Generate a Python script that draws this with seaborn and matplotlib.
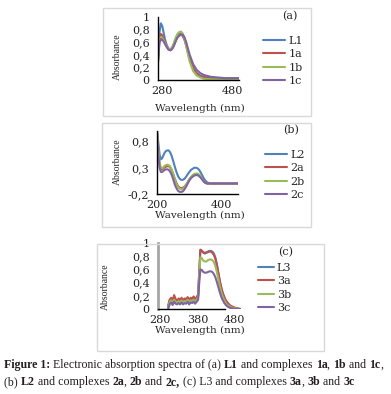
import numpy as np
import pandas as pd
import matplotlib
matplotlib.use("Agg")
import matplotlib.pyplot as plt
from matplotlib.patches import Rectangle
import seaborn as sns

# ---- data ----
wl_a = [270, 274, 278, 282, 286, 290, 295, 300, 305, 310, 315, 320, 325, 330, 335,
        340, 345, 350, 355, 360, 370, 380, 390, 400, 420, 440, 460, 480, 500]
abs_L1 = [0.30, 0.75, 0.90, 0.86, 0.75, 0.64, 0.55, 0.50, 0.48, 0.50, 0.56, 0.63, 0.69, 0.73, 0.74,
          0.72, 0.66, 0.57, 0.46, 0.34, 0.19, 0.11, 0.07, 0.05, 0.03, 0.02, 0.02, 0.02, 0.02]
abs_1a = [0.30, 0.66, 0.73, 0.71, 0.66, 0.60, 0.53, 0.49, 0.48, 0.50, 0.56, 0.63, 0.68, 0.71, 0.72,
          0.70, 0.64, 0.55, 0.44, 0.33, 0.18, 0.10, 0.06, 0.04, 0.02, 0.02, 0.01, 0.01, 0.01]
abs_1b = [0.30, 0.62, 0.68, 0.67, 0.63, 0.58, 0.53, 0.49, 0.49, 0.52, 0.59, 0.67, 0.73, 0.76, 0.77,
          0.74, 0.66, 0.54, 0.41, 0.29, 0.14, 0.07, 0.04, 0.02, 0.01, 0.01, 0.01, 0.01, 0.01]
abs_1c = [0.28, 0.58, 0.65, 0.64, 0.61, 0.57, 0.52, 0.48, 0.47, 0.49, 0.54, 0.61, 0.67, 0.70, 0.72,
          0.72, 0.68, 0.60, 0.50, 0.40, 0.25, 0.16, 0.11, 0.08, 0.05, 0.04, 0.03, 0.03, 0.03]
names_a = ["L1", "1a", "1b", "1c"]

wl_b = [200, 204, 208, 212, 216, 220, 224, 228, 232, 236, 240, 245, 250, 255, 260, 265, 270, 275, 280, 285,
        290, 295, 300, 305, 310, 315, 320, 325, 330, 335, 340, 345, 350, 355, 360, 370, 380, 400, 420, 450]
abs_L2 = [1.02, 0.78, 0.55, 0.46, 0.48, 0.54, 0.59, 0.62, 0.63, 0.63, 0.60, 0.53, 0.43, 0.32, 0.22, 0.14, 0.09, 0.07, 0.07, 0.09,
          0.13, 0.18, 0.22, 0.26, 0.28, 0.30, 0.30, 0.29, 0.26, 0.21, 0.15, 0.09, 0.05, 0.02, 0.01, 0.0, 0.0, 0.0, 0.0, 0.0]
abs_2a = [1.00, 0.62, 0.36, 0.27, 0.27, 0.29, 0.31, 0.32, 0.33, 0.33, 0.31, 0.26, 0.18, 0.09, 0.01, -0.05, -0.08, -0.09, -0.08, -0.06,
          -0.02, 0.03, 0.08, 0.12, 0.15, 0.17, 0.18, 0.18, 0.16, 0.12, 0.08, 0.04, 0.01, 0.0, 0.0, 0.0, 0.0, 0.0, 0.0, 0.0]
abs_2b = [1.00, 0.66, 0.40, 0.29, 0.29, 0.31, 0.34, 0.35, 0.36, 0.35, 0.33, 0.27, 0.18, 0.08, -0.01, -0.07, -0.10, -0.11, -0.10, -0.07,
          -0.03, 0.02, 0.08, 0.12, 0.16, 0.18, 0.19, 0.19, 0.17, 0.13, 0.08, 0.04, 0.01, 0.0, 0.0, 0.0, 0.0, 0.0, 0.0, 0.0]
abs_2c = [0.95, 0.55, 0.30, 0.22, 0.22, 0.24, 0.26, 0.27, 0.27, 0.26, 0.23, 0.17, 0.08, -0.02, -0.09, -0.14, -0.16, -0.16, -0.15, -0.11,
          -0.06, 0.0, 0.06, 0.10, 0.13, 0.15, 0.16, 0.16, 0.14, 0.11, 0.07, 0.03, 0.01, 0.0, 0.0, 0.0, 0.0, 0.0, 0.0, 0.0]
names_b = ["L2", "2a", "2b", "2c"]

wl_c = [302, 306, 310, 314, 318, 322, 326, 330, 334, 338, 342, 346, 350, 354, 358, 362, 366, 370, 374, 378, 382,
        385, 388, 392, 396, 400, 404, 408, 412, 416, 420, 424, 428, 432, 436, 440, 444, 448, 452, 456, 460,
        466, 472, 480, 488, 495]
abs_L3 = [0.03, 0.12, 0.15, 0.10, 0.18, 0.13, 0.11, 0.14, 0.12, 0.15, 0.11, 0.14, 0.13, 0.16, 0.12, 0.15, 0.14, 0.17, 0.13, 0.16, 0.20,
          0.55, 0.89, 0.88, 0.85, 0.84, 0.85, 0.87, 0.88, 0.88, 0.87, 0.84, 0.78, 0.68, 0.55, 0.42, 0.31, 0.23, 0.17, 0.12, 0.09,
          0.05, 0.03, 0.01, 0.0, 0.0]
abs_3a = [0.05, 0.14, 0.17, 0.13, 0.21, 0.15, 0.13, 0.16, 0.14, 0.17, 0.13, 0.16, 0.15, 0.18, 0.14, 0.17, 0.16, 0.19, 0.15, 0.18, 0.22,
          0.57, 0.90, 0.88, 0.86, 0.85, 0.86, 0.86, 0.87, 0.87, 0.85, 0.82, 0.76, 0.66, 0.54, 0.42, 0.32, 0.24, 0.18, 0.13, 0.10,
          0.06, 0.04, 0.02, 0.01, 0.0]
abs_3b = [0.02, 0.10, 0.13, 0.09, 0.14, 0.11, 0.10, 0.12, 0.10, 0.13, 0.10, 0.12, 0.11, 0.14, 0.10, 0.13, 0.12, 0.14, 0.11, 0.14, 0.18,
          0.50, 0.78, 0.77, 0.73, 0.72, 0.72, 0.74, 0.75, 0.75, 0.74, 0.71, 0.65, 0.56, 0.45, 0.34, 0.25, 0.18, 0.13, 0.09, 0.06,
          0.04, 0.02, 0.01, 0.0, 0.0]
abs_3c = [0.00, 0.07, 0.10, 0.06, 0.11, 0.08, 0.07, 0.09, 0.07, 0.10, 0.07, 0.09, 0.08, 0.11, 0.07, 0.10, 0.09, 0.11, 0.08, 0.11, 0.14,
          0.40, 0.60, 0.59, 0.56, 0.55, 0.55, 0.56, 0.57, 0.57, 0.56, 0.53, 0.48, 0.41, 0.33, 0.25, 0.18, 0.13, 0.09, 0.06, 0.04,
          0.02, 0.01, 0.0, 0.0, 0.0]
names_c = ["L3", "3a", "3b", "3c"]

yticks_a = [0, 0.2, 0.4, 0.6, 0.8, 1]
ylabels_a = ["0", "0,2", "0,4", "0,6", "0,8", "1"]
xticks_a = [280, 480]
yticks_b = [-0.2, 0.3, 0.8]
ylabels_b = ["-0,2", "0,3", "0,8"]
xticks_b = [200, 400]
xticks_c = [280, 380, 480]

colors = ["#4F81BD", "#C0504D", "#9BBB59", "#8064A2"]

sns.set_style("white")
plt.rcParams["font.family"] = ["DejaVu Serif"]

W, H = 391, 394
fig = plt.figure(figsize=(W / 100, H / 100), dpi=100)


def fx(px):
    return px / W


def fy(py):
    return 1 - py / H


def long_df(wl, series, names):
    parts = []
    for vals, n in zip(series, names):
        parts.append(pd.DataFrame({"wavelength": wl, "absorbance": vals, "sample": n}))
    return pd.concat(parts, ignore_index=True)


def panel(rect, wl, series, names, xlim, ylim, xticks, yticks, ylabels,
          leg_xy, handlelen, tag, tag_xy, xlab_y, ylab_xy):
    ax = fig.add_axes(rect)
    df = long_df(wl, series, names)
    sns.lineplot(data=df, x="wavelength", y="absorbance", hue="sample",
                 hue_order=names, palette=colors, estimator=None, sort=False,
                 lw=1.5, legend=False, ax=ax)
    ax.set_xlim(*xlim)
    ax.set_ylim(*ylim)
    ax.set_xticks(xticks)
    ax.set_xticklabels([str(t) for t in xticks])
    ax.set_yticks(yticks)
    ax.set_yticklabels(ylabels)
    ax.tick_params(length=0, labelsize=8, colors="#222222")
    ax.tick_params(axis="y", pad=6)
    ax.tick_params(axis="x", pad=4)
    ax.set_xlabel("")
    ax.set_ylabel("")
    for s in ["top", "right"]:
        ax.spines[s].set_visible(False)
    for s in ["left", "bottom"]:
        ax.spines[s].set_color("black")
        ax.spines[s].set_linewidth(1.0)
    ax.patch.set_alpha(0)
    ax.legend(ax.get_lines(), names, loc="upper left",
              bbox_to_anchor=(fx(leg_xy[0]), fy(leg_xy[1])),
              bbox_transform=fig.transFigure, frameon=False, fontsize=8,
              borderpad=0, borderaxespad=0, handlelength=handlelen,
              handletextpad=0.3, labelspacing=0.3)
    fig.text(fx(tag_xy[0]), fy(tag_xy[1]), tag, fontsize=8, ha="center", va="center")
    fig.text(fx(200), fy(xlab_y), "Wavelength (nm)", fontsize=7.5, ha="center", va="center")
    fig.text(fx(ylab_xy[0]), fy(ylab_xy[1]), "Absorbance", fontsize=7, rotation=90,
             ha="center", va="center", family="Liberation Serif")
    return ax


# frames around each chart
for x0, y0, x1, y1 in [(103, 8, 311, 116), (102, 123, 311, 227), (97, 244, 324, 351)]:
    fig.patches.append(Rectangle((fx(x0), fy(y1)), fx(x1 - x0), (y1 - y0) / H,
                                 transform=fig.transFigure, fill=False,
                                 ec="#D9D9D9", lw=1.0))

panel([fx(158), fy(80), fx(81), 63 / H], wl_a, [abs_L1, abs_1a, abs_1b, abs_1c], names_a,
      (270, 500), (0, 1), xticks_a, yticks_a, ylabels_a,
      (263, 36), 2.0, "(a)", (290, 16), 108, (117, 57))

panel([fx(157), fy(194), fx(81), 63 / H], wl_b, [abs_L2, abs_2a, abs_2b, abs_2c], names_b,
      (200, 450), (-0.2, 1.0), xticks_b, yticks_b, ylabels_b,
      (265, 150), 2.0, "(b)", (291, 130), 215, (117, 162))

ax_c = panel([fx(158), fy(309), fx(82.5), 66 / H], wl_c, [abs_L3, abs_3a, abs_3b, abs_3c], names_c,
             (275, 495), (0, 1), xticks_c, yticks_a, ylabels_a,
             (258, 263), 1.4, "(c)", (286, 252), 330, (105, 287))
ax_c.spines["left"].set_color("#A6A6A6")
ax_c.spines["left"].set_linewidth(2.0)
ax_c.spines["bottom"].set_bounds(275, 453)

# caption with mixed bold pieces
renderer = fig.canvas.get_renderer()
lines = [
    [("Figure 1:", "bold"), (" Electronic absorption spectra of (a) ", "normal"), ("L1", "bold"),
     (" and complexes ", "normal"), ("1a", "bold"), (", ", "normal"), ("1b", "bold"),
     (" and ", "normal"), ("1c", "bold"), (",", "normal")],
    [("(b) ", "normal"), ("L2", "bold"), (" and complexes ", "normal"), ("2a", "bold"),
     (", ", "normal"), ("2b", "bold"), (" and ", "normal"), ("2c,", "bold"),
     (" (c) L3 and complexes ", "normal"), ("3a", "bold"), (", ", "normal"), ("3b", "bold"),
     (" and ", "normal"), ("3c", "bold")],
]
for row, ypx in zip(lines, [365, 382]):
    x = fx(4)
    for txt, wt in row:
        t = fig.text(x, fy(ypx), txt, fontsize=8.6, weight=wt, family="Liberation Serif",
                     ha="left", va="center", color="#231F20")
        x += t.get_window_extent(renderer).width / W

fig.savefig("out.png", dpi=100)
